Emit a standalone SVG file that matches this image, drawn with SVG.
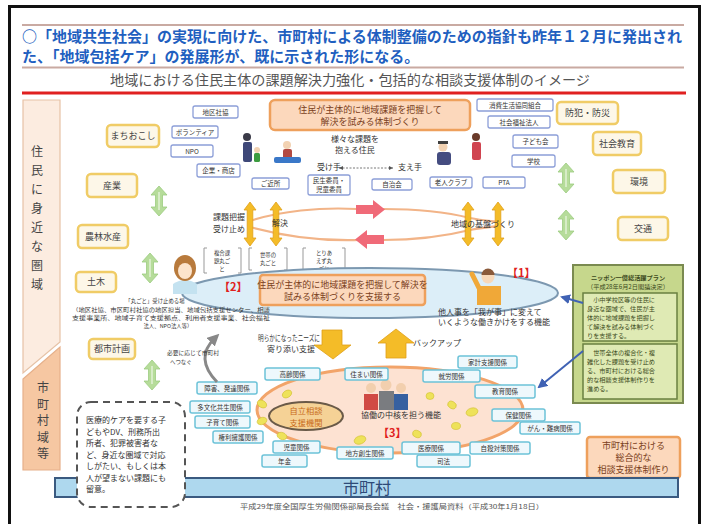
<svg xmlns="http://www.w3.org/2000/svg" width="704" height="524" viewBox="0 0 704 524">
<defs>
<style>
text{font-family:"Noto Sans CJK JP","Noto Sans",sans-serif;}
.ttl{font-size:15px;font-weight:bold;fill:#1f5fc0;}
.sub{font-size:13.5px;fill:#555;text-anchor:middle;}
.ybox{fill:#fdf7e8;stroke:#f0cc66;stroke-width:2.5;}
.yt{font-size:9px;fill:#444;text-anchor:middle;}
.bbox{fill:#fff;stroke:#8c9ed8;stroke-width:1.3;}
.bt{font-size:6.5px;fill:#333;text-anchor:middle;}
.cbox{fill:#eef8fc;stroke:#6cc2d8;stroke-width:1.5;}
.ct{font-size:6.5px;fill:#333;text-anchor:middle;}
.obox{fill:#fcd8bc;stroke:#eea05c;stroke-width:2.5;}
.ot{font-size:9px;fill:#7a4020;text-anchor:middle;}
.garrow{fill:#b6dc9a;stroke:#9ccc80;stroke-width:0.8;}
.yarrow{fill:#f4bc28;stroke:#e0a018;stroke-width:0.8;}
.parrow{fill:#f06a78;}
.blob{fill:#eee25a;stroke:#d0c030;stroke-width:0.6;}
.red{font-size:11px;font-weight:bold;fill:#e02020;}
.sm{font-size:5.4px;fill:#333;}
.mid{font-size:8px;fill:#333;}
.gt{font-size:6.2px;fill:#3c4a20;}
.col{font-size:12px;fill:#444;text-anchor:middle;}
</style>
<symbol id="dbl-green" viewBox="-9 -16 18 32" width="18" height="32" overflow="visible">
<path class="garrow" d="M0,-15 L8,-6 L3.5,-6 L3.5,6 L8,6 L0,15 L-8,6 L-3.5,6 L-3.5,-6 L-8,-6Z"/>
<path d="M0,-9 L0,9" stroke="#e2f2d6" stroke-width="1.5"/>
</symbol>
<symbol id="dbl-yellow" viewBox="-7 -23 14 46" width="14" height="46" overflow="visible">
<path class="yarrow" d="M0,-22 L6,-14 L2.8,-14 L2.8,14 L6,14 L0,22 L-6,14 L-2.8,14 L-2.8,-14 L-6,-14Z"/>
</symbol>
<marker id="ah-blue" viewBox="0 0 10 10" refX="8" refY="5" markerWidth="5" markerHeight="5" orient="auto">
<path d="M0,0 L10,5 L0,10 Z" fill="#4062b4"/>
</marker>
<marker id="ah-gray" viewBox="0 0 10 10" refX="5" refY="5" markerWidth="4" markerHeight="4" orient="auto-start-reverse">
<path d="M0,0 L10,5 L0,10 Z" fill="#888"/>
</marker>
</defs>

<rect x="0" y="0" width="704" height="524" fill="#fff"/>
<!-- page frame -->
<rect x="9.5" y="6.5" width="690" height="530" fill="none" stroke="#111" stroke-width="3"/>

<!-- heading -->
<g id="heading">
<line x1="22" y1="25" x2="684" y2="25" stroke="#c9aaa2" stroke-width="2"/>
<text class="ttl" x="22" y="42" textLength="660" lengthAdjust="spacingAndGlyphs">○「地域共生社会」の実現に向けた、市町村による体制整備のための指針も昨年１２月に発出され</text>
<text class="ttl" x="22" y="62">た、「地域包括ケア」の発展形が、既に示された形になる。</text>
<line x1="22" y1="67.5" x2="684" y2="67.5" stroke="#c9aaa2" stroke-width="2"/>
<text class="sub" x="350" y="85" textLength="480" lengthAdjust="spacingAndGlyphs">地域における住民主体の課題解決力強化・包括的な相談支援体制のイメージ</text>
<line x1="22" y1="93" x2="686" y2="93" stroke="#e02020" stroke-width="3"/>
</g>

<!-- left band: areas -->
<g id="area-neighbourhood">
<path d="M23,100 H60 V342 L23,373 Z" fill="#fcece0" stroke="#e6c2a6" stroke-width="1.2"/>
<text class="col"><tspan x="37" y="156">住</tspan><tspan x="37" y="175">民</tspan><tspan x="37" y="194">に</tspan><tspan x="37" y="213">身</tspan><tspan x="37" y="232">近</tspan><tspan x="37" y="251">な</tspan><tspan x="37" y="270">圏</tspan><tspan x="37" y="289">域</tspan></text>
</g>
<g id="area-municipal">
<path d="M23,379 L60,347 V470 H23 Z" fill="#f6c7a2" stroke="#e6b08a" stroke-width="1.2"/>
<text class="col" font-size="11"><tspan x="43" y="392">市</tspan><tspan x="43" y="408.5">町</tspan><tspan x="43" y="425">村</tspan><tspan x="43" y="441.5">域</tspan><tspan x="43" y="458">等</tspan></text>
</g>

<!-- sectors (yellow) -->
<g id="sector-machiokoshi"><rect class="ybox" x="107" y="125" width="52" height="22" rx="4"/><text class="yt" x="133" y="139">まちおこし</text></g>
<g id="sector-sangyo"><rect class="ybox" x="87" y="174" width="50" height="23" rx="4"/><text class="yt" x="112" y="189">産業</text></g>
<g id="sector-norin"><rect class="ybox" x="78" y="225" width="50" height="23" rx="4"/><text class="yt" x="103" y="240">農林水産</text></g>
<g id="sector-doboku"><rect class="ybox" x="76" y="272" width="40" height="20" rx="4"/><text class="yt" x="96" y="285">土木</text></g>
<g id="sector-toshi"><rect class="ybox" x="89" y="339" width="46" height="20" rx="4"/><text class="yt" x="112" y="352">都市計画</text></g>
<g id="sector-bohan"><rect class="ybox" x="557" y="102" width="61" height="22" rx="4"/><text class="yt" x="587.5" y="116">防犯・防災</text></g>
<g id="sector-shakaikyoiku"><rect class="ybox" x="593" y="132" width="48" height="23" rx="4"/><text class="yt" x="617" y="147">社会教育</text></g>
<g id="sector-kankyo"><rect class="ybox" x="613" y="170" width="52" height="23" rx="4"/><text class="yt" x="639" y="185">環境</text></g>
<g id="sector-kotsu"><rect class="ybox" x="618" y="217" width="50" height="23" rx="4"/><text class="yt" x="643" y="232">交通</text></g>

<!-- green two-way arrows -->
<g id="links-green">
<use href="#dbl-green" x="150" y="185"/>
<use href="#dbl-green" x="141" y="252"/>
<use href="#dbl-green" x="143" y="359"/>
<use href="#dbl-green" x="557" y="162"/>
<use href="#dbl-green" x="557" y="209"/>
</g>

<!-- local actors (blue) -->
<g id="actor-chikushakyo"><rect class="bbox" x="193" y="106" width="45" height="12" rx="2"/><text class="bt" x="215.5" y="114.5">地区社協</text></g>
<g id="actor-volunteer"><rect class="bbox" x="172" y="126" width="46" height="12" rx="2"/><text class="bt" x="195" y="134.5">ボランティア</text></g>
<g id="actor-npo"><rect class="bbox" x="171" y="145" width="42" height="12" rx="2"/><text class="bt" x="192" y="153.5">NPO</text></g>
<g id="actor-kigyo"><rect class="bbox" x="197" y="164" width="43" height="13" rx="2"/><text class="bt" x="218.5" y="173">企業・商店</text></g>
<g id="actor-gokinjo"><rect class="bbox" x="252" y="178" width="37" height="11" rx="2"/><text class="bt" x="270.5" y="186">ご近所</text></g>
<g id="actor-minsei"><rect class="bbox" x="308" y="175" width="42" height="20" rx="2"/><text class="bt" x="329" y="183" font-size="5.6">民生委員・</text><text class="bt" x="329" y="192" font-size="5.6">児童委員</text></g>
<g id="actor-jichikai"><rect class="bbox" x="372" y="179" width="40" height="11" rx="2"/><text class="bt" x="392" y="187">自治会</text></g>
<g id="actor-rojin"><rect class="bbox" x="430" y="177" width="42" height="11" rx="2"/><text class="bt" x="451" y="185">老人クラブ</text></g>
<g id="actor-pta"><rect class="bbox" x="483" y="177" width="42" height="11" rx="2"/><text class="bt" x="504" y="185">PTA</text></g>
<g id="actor-kodomokai"><rect class="bbox" x="513" y="135" width="45" height="13" rx="2"/><text class="bt" x="535.5" y="144">子ども会</text></g>
<g id="actor-gakko"><rect class="bbox" x="512" y="155" width="43" height="12" rx="2"/><text class="bt" x="533.5" y="163.5">学校</text></g>
<g id="actor-seikyo"><rect class="bbox" x="477" y="99" width="76" height="12" rx="2"/><text class="bt" x="515" y="107.5">消費生活協同組合</text></g>
<g id="actor-fukushihojin"><rect class="bbox" x="488" y="116" width="62" height="12" rx="2"/><text class="bt" x="519" y="124.5">社会福祉法人</text></g>

<!-- resident-led structure -->
<g id="resident-system">
<rect class="obox" x="270" y="100" width="200" height="30" rx="5"/>
<text class="ot" x="370" y="113">住民が主体的に地域課題を把握して</text>
<text class="ot" x="370" y="125">解決を試みる体制づくり</text>
</g>

<!-- residents -->
<g id="residents">
<circle cx="247" cy="137" r="4" fill="#3a3a48"/>
<rect x="243" y="142" width="9" height="20" rx="2" fill="#3e4878"/>
<circle cx="257" cy="150" r="3" fill="#f2d2b2"/>
<rect x="254" y="153" width="6" height="9" rx="1.5" fill="#3c9c40"/>
<circle cx="287" cy="145" r="4" fill="#f2d2b2"/>
<rect x="283" y="149" width="9" height="10" rx="2" fill="#b24a42"/>
<rect x="274" y="157" width="27" height="6" rx="2" fill="#3a78c8"/>
<circle cx="443" cy="147" r="4.5" fill="#f2d2b2"/>
<path d="M438,144 h10 v-3 h-10z" fill="#404040"/>
<rect x="437" y="152" width="14" height="13" rx="3" fill="#444c80"/>
<circle cx="476" cy="137" r="4" fill="#6a3a2a"/>
<rect x="472" y="142" width="9" height="18" rx="2" fill="#d04450"/>
<text class="mid" x="355" y="142" text-anchor="middle" font-size="7.5">様々な課題を</text>
<text class="mid" x="355" y="153" text-anchor="middle" font-size="7.5">抱える住民</text>
<text class="mid" x="317" y="170" font-size="6.5">受け手</text>
<line x1="339" y1="168" x2="393" y2="168" stroke="#555" stroke-width="0.8" stroke-dasharray="2 1.5"/>
<path d="M339,168 l4,-2 v4z M393,168 l-4,-2 v4z" fill="#555"/>
<text class="mid" x="398" y="170" font-size="6.5">支え手</text>
</g>

<!-- cycle: grasp / solve / base-building -->
<g id="cycle">
<path d="M250,221 C280,211 320,207 357,209 M383,209 C420,209 450,213 470,218 C480,220 490,221 498,222" fill="none" stroke="#f2b488" stroke-width="2.2"/>
<path d="M250,227 C290,238 330,241 360,240 M383,240 C420,240 450,235 470,230 C480,228 490,227 498,226" fill="none" stroke="#f2b488" stroke-width="2.2"/>
<path class="parrow" d="M356,205 H373 V200 L385,209.5 L373,219 V214 H356Z"/>
<path class="parrow" d="M384,235 H367 V230 L355,239.5 L367,249 V244 H384Z"/>
<use href="#dbl-yellow" x="243" y="201"/>
<use href="#dbl-yellow" x="269" y="201"/>
<use href="#dbl-yellow" x="461" y="201"/>
<use href="#dbl-yellow" x="491" y="201"/>
<text class="mid" x="245" y="220" text-anchor="end" font-size="9">課題把握</text>
<text class="mid" x="245" y="232" text-anchor="end" font-size="9">受け止め</text>
<text class="mid" x="272" y="226" font-size="9">解決</text>
<text class="mid" x="483" y="227" text-anchor="middle" font-size="9">地域の基盤づくり</text>
</g>

<!-- 丸ごと brackets -->
<g id="marugoto">
<path d="M207,248 h-3 v25 h3 M238,248 h3 v25 h-3" fill="none" stroke="#999" stroke-width="1"/>
<text class="sm" x="222" y="255" text-anchor="middle">複合課</text>
<text class="sm" x="222" y="263" text-anchor="middle">題丸ご</text>
<text class="sm" x="222" y="271" text-anchor="middle">と</text>
<path d="M252,248 h-3 v22 h3 M284,248 h3 v22 h-3" fill="none" stroke="#999" stroke-width="1"/>
<text class="sm" x="268" y="257" text-anchor="middle">世帯の</text>
<text class="sm" x="268" y="265" text-anchor="middle">丸ごと</text>
<path d="M306,248 h-3 v25 h3 M342,248 h3 v25 h-3" fill="none" stroke="#999" stroke-width="1"/>
<text class="sm" x="324" y="255" text-anchor="middle">とりあ</text>
<text class="sm" x="324" y="263" text-anchor="middle">えず丸</text>
<text class="sm" x="324" y="271" text-anchor="middle">ごと</text>
</g>

<!-- support structure (ellipse 1/2) -->
<g id="support-ellipse">
<ellipse cx="370" cy="293" rx="188" ry="25" fill="#dceef8" stroke="#7c98b0" stroke-width="2"/>
<rect class="obox" x="260" y="275" width="165" height="30" rx="3"/>
<text class="ot" x="342.5" y="288" font-size="9.5">住民が主体的に地域課題を把握して解決を</text>
<text class="ot" x="342.5" y="300" font-size="9.5">試みる体制づくりを支援する</text>
<text class="red" x="219" y="291">【2】</text>
<text class="red" x="507" y="277">【1】</text>
<!-- consultation worker -->
<path d="M173,284 q12,-8 24,0 v10 h-24z" fill="#c4e2f0"/>
<ellipse cx="185" cy="268" rx="11" ry="13" fill="#b87a3c"/>
<ellipse cx="185" cy="271" rx="7" ry="8" fill="#fce4cc"/>
<!-- community worker -->
<path d="M477,286 h24 v19 h-24z" fill="#f0a838"/>
<line x1="479" y1="288" x2="472" y2="274" stroke="#f0a838" stroke-width="5" stroke-linecap="round"/>
<circle cx="488" cy="277" r="6.5" fill="#f8d8b8"/>
<path d="M481.5,275 a6.5,6.5 0 0 1 13,0 z" fill="#8a5a3a"/>
</g>
<g id="label-marugoto">
<text class="sm" x="155" y="303" text-anchor="middle" font-size="6.2">「丸ごと」受け止める場</text>
<text class="sm" x="171" y="311.5" text-anchor="middle" textLength="198" lengthAdjust="spacingAndGlyphs">（地区社協、市区町村社協の地区担当、地域包括支援センター、相談</text>
<text class="sm" x="171" y="319.5" text-anchor="middle" textLength="198" lengthAdjust="spacingAndGlyphs">支援事業所、地域子育て支援拠点、利用者支援事業、社会福祉</text>
<text class="sm" x="168" y="327.5" text-anchor="middle">法人、NPO法人等）</text>
</g>
<g id="label-wagakoto">
<text class="mid" x="438" y="315">他人事を「我が事」に変えて</text>
<text class="mid" x="438" y="325">いくような働きかけをする機能</text>
</g>

<!-- plan box -->
<g id="plan-box">
<rect x="573" y="265" width="110" height="138" fill="#c6d78c" stroke="#7a8a50" stroke-width="2"/>
<text class="gt" x="628" y="280" text-anchor="middle" font-weight="bold" font-size="7.2">ニッポン一億総活躍プラン</text>
<text class="gt" x="628" y="289" text-anchor="middle" font-size="5.2">（平成28年6月2日閣議決定）</text>
<rect x="583" y="293" width="94" height="48" fill="#dfeab4" stroke="#6a8040" stroke-width="1.5"/>
<text class="gt" x="587" y="302">　小中学校区等の住民に</text>
<text class="gt" x="587" y="311">身近な圏域で、住民が主</text>
<text class="gt" x="587" y="320">体的に地域課題を把握し</text>
<text class="gt" x="587" y="329">て解決を試みる体制づく</text>
<text class="gt" x="587" y="338">りを支援する。</text>
<rect x="583" y="344" width="94" height="55" fill="#dfeab4" stroke="#6a8040" stroke-width="1.5"/>
<text class="gt" x="587" y="355">　世帯全体の複合化・複</text>
<text class="gt" x="587" y="364">雑化した課題を受け止め</text>
<text class="gt" x="587" y="373">る、市町村における総合</text>
<text class="gt" x="587" y="382">的な相談支援体制作りを</text>
<text class="gt" x="587" y="391">進める。</text>
</g>

<!-- multi-agency network (3) -->
<g id="network-ellipse">
<ellipse cx="390" cy="410" rx="133" ry="43" fill="#fde2d2" stroke="#f2a46a" stroke-width="3"/>
<ellipse cx="306" cy="416" rx="37" ry="14" fill="#f5d296" stroke="#6a5a48" stroke-width="2"/>
<text x="306" y="414" text-anchor="middle" font-size="8.2" fill="#c86a18">自立相談</text>
<text x="306" y="426" text-anchor="middle" font-size="8.2" fill="#c86a18">支援機関</text>
<circle cx="371" cy="388" r="5" fill="#f2cfae"/><path d="M364,394 h14 v16 h-14z" fill="#d04a44"/>
<circle cx="386" cy="385" r="5.5" fill="#f2cfae"/><path d="M379,391 h15 v19 h-15z" fill="#7a7c80"/>
<circle cx="401" cy="388" r="5" fill="#f2cfae"/><path d="M394,394 h14 v16 h-14z" fill="#3660a0"/>
<text class="mid" x="401" y="418" text-anchor="middle" font-size="7">協働の中核を担う機能</text>
<text class="red" x="378" y="437">【3】</text>
<g id="hands">
<ellipse class="blob" cx="287" cy="394" rx="5" ry="3.5" transform="rotate(-30 287 394)"/>
<ellipse class="blob" cx="262" cy="404" rx="5" ry="3.5" transform="rotate(30 262 404)"/>
<ellipse class="blob" cx="262" cy="421" rx="5" ry="3.5" transform="rotate(-20 262 421)"/>
<ellipse class="blob" cx="282" cy="436" rx="5" ry="3.5" transform="rotate(20 282 436)"/>
<ellipse class="blob" cx="430" cy="396" rx="4" ry="3.5"/>
<ellipse class="blob" cx="452" cy="405" rx="4.5" ry="3.5" transform="rotate(30 452 405)"/>
<ellipse class="blob" cx="472" cy="412" rx="6" ry="4" transform="rotate(-15 472 412)"/>
<ellipse class="blob" cx="456" cy="426" rx="4.5" ry="3.5"/>
<ellipse class="blob" cx="417" cy="434" rx="4.5" ry="3.5" transform="rotate(20 417 434)"/>
<ellipse class="blob" cx="360" cy="440" rx="6" ry="4" transform="rotate(-20 360 440)"/>
</g>
</g>
<g id="agency-korei"><rect class="cbox" x="265" y="368" width="55" height="12" rx="2"/><text class="ct" x="292.5" y="376.5">高齢関係</text></g>
<g id="agency-sumai"><rect class="cbox" x="345" y="368" width="43" height="12" rx="2"/><text class="ct" x="366.5" y="376.5">住まい関係</text></g>
<g id="agency-shuro"><rect class="cbox" x="423" y="370" width="57" height="12" rx="2"/><text class="ct" x="451.5" y="378.5">就労関係</text></g>
<g id="agency-kakei"><rect class="cbox" x="458" y="356" width="59" height="12" rx="2"/><text class="ct" x="487.5" y="364.5">家計支援関係</text></g>
<g id="agency-kyoiku"><rect class="cbox" x="475" y="385" width="60" height="13" rx="2"/><text class="ct" x="505" y="394">教育関係</text></g>
<g id="agency-hoken"><rect class="cbox" x="492" y="409" width="53" height="12" rx="2"/><text class="ct" x="518.5" y="417.5">保健関係</text></g>
<g id="agency-gan"><rect class="cbox" x="520" y="422" width="60" height="12" rx="2"/><text class="ct" x="550" y="430.5">がん・難病関係</text></g>
<g id="agency-jisatsu"><rect class="cbox" x="470" y="442" width="60" height="12" rx="2"/><text class="ct" x="500" y="450.5">自殺対策関係</text></g>
<g id="agency-iryo"><rect class="cbox" x="402" y="442" width="58" height="12" rx="2"/><text class="ct" x="431" y="450.5">医療関係</text></g>
<g id="agency-shiho"><rect class="cbox" x="417" y="455" width="53" height="12" rx="2"/><text class="ct" x="443.5" y="463.5">司法</text></g>
<g id="agency-chihososei"><rect class="cbox" x="337" y="447" width="56" height="12" rx="2"/><text class="ct" x="365" y="455.5">地方創生関係</text></g>
<g id="agency-jido"><rect class="cbox" x="273" y="441" width="47" height="12" rx="2"/><text class="ct" x="296.5" y="449.5">児童関係</text></g>
<g id="agency-nenkin"><rect class="cbox" x="262" y="455" width="45" height="12" rx="2"/><text class="ct" x="284.5" y="463.5">年金</text></g>
<g id="agency-kenri"><rect class="cbox" x="213" y="431" width="50" height="12" rx="2"/><text class="ct" x="238" y="439.5">権利擁護関係</text></g>
<g id="agency-kosodate"><rect class="cbox" x="195" y="416" width="55" height="12" rx="2"/><text class="ct" x="222.5" y="424.5">子育て関係</text></g>
<g id="agency-tabunka"><rect class="cbox" x="190" y="401" width="60" height="12" rx="2"/><text class="ct" x="220" y="409.5">多文化共生関係</text></g>
<g id="agency-shogai"><rect class="cbox" x="197" y="382" width="60" height="12" rx="2"/><text class="ct" x="227" y="390.5">障害、発達関係</text></g>

<!-- need / backup arrows -->
<g id="needs-arrow">
<path class="yarrow" d="M322,330 H342 V345 H351 L333,359 L314,345 H322Z"/>
<text class="mid" x="258" y="341" font-size="7" textLength="62" lengthAdjust="spacingAndGlyphs">明らかになったニーズに</text>
<text class="mid" x="267" y="351.5" font-size="7.2">寄り添い支援</text>
</g>
<g id="backup-arrow">
<path class="yarrow" d="M396,329 L414,343 H406 V358 H386 V343 H378Z"/>
<text class="mid" x="413" y="346" font-size="7.5">バックアップ</text>
</g>

<!-- municipal box -->
<g id="municipal-system">
<rect class="obox" x="587" y="437" width="93" height="41" rx="3"/>
<text class="ot" x="633.5" y="449" font-size="7">市町村における</text>
<text class="ot" x="633.5" y="461" font-size="7">総合的な</text>
<text class="ot" x="633.5" y="473" font-size="7">相談支援体制作り</text>
</g>

<!-- municipality bar -->
<g id="municipality">
<rect x="55" y="478" width="623" height="19" fill="#aed8ee" stroke="#3a5a80" stroke-width="2"/>
<text x="367" y="494" text-anchor="middle" font-size="16" fill="#2e4a78">市町村</text>
</g>

<!-- note -->
<g id="note">
<rect x="77" y="402" width="108" height="105" rx="14" fill="#fff" stroke="#555" stroke-width="2" stroke-dasharray="7 5"/>
<text class="mid" x="86" y="423" font-size="7.8">医療的ケアを要する子</text>
<text class="mid" x="86" y="434.5" font-size="7.8">どもやDV、刑務所出</text>
<text class="mid" x="86" y="446" font-size="7.8">所者、犯罪被害者な</text>
<text class="mid" x="86" y="457.5" font-size="7.8">ど、身近な圏域で対応</text>
<text class="mid" x="86" y="469" font-size="7.8">しがたい、もしくは本</text>
<text class="mid" x="86" y="480.5" font-size="7.8">人が望まない課題にも</text>
<text class="mid" x="86" y="492" font-size="7.8">留意。</text>
</g>

<!-- connectors -->
<g id="connectors">
<line x1="583" y1="303" x2="562" y2="297" stroke="#4062b4" stroke-width="2" marker-end="url(#ah-blue)"/>
<line x1="583" y1="351" x2="539" y2="387" stroke="#4062b4" stroke-width="2" marker-end="url(#ah-blue)"/>
<path d="M215,338 Q194,358 217,382" fill="none" stroke="#888" stroke-width="3" marker-start="url(#ah-gray)"/>
<text class="sm" x="167" y="355" textLength="52" lengthAdjust="spacingAndGlyphs">必要に応じて市町村</text>
<text class="sm" x="170" y="363.5">へつなぐ</text>
</g>

<text x="392" y="509" text-anchor="middle" font-size="6.5" fill="#555" textLength="304" lengthAdjust="spacingAndGlyphs">平成29年度全国厚生労働関係部局長会議　社会・援護局資料（平成30年1月18日）</text>
</svg>
